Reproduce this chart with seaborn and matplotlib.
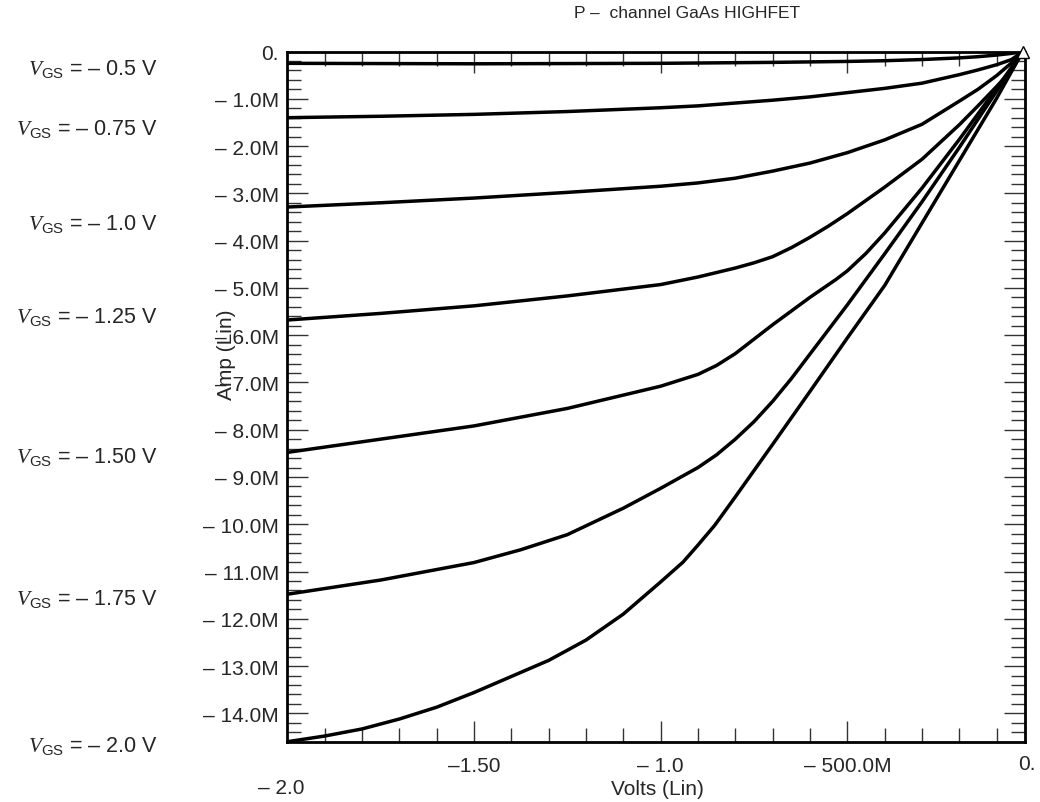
import numpy as np
import pandas as pd
import matplotlib
matplotlib.use("Agg")
import matplotlib.pyplot as plt
import seaborn as sns

# ---- data (drain voltage in V, drain current in mA) ----
vgs_labels = ["– 0.5 V", "– 0.75 V", "– 1.0 V", "– 1.25 V", "– 1.50 V", "– 1.75 V", "– 2.0 V"]

v_050 = [-2.0, -1.5, -1.0, -0.7, -0.5, -0.4, -0.3, -0.2, -0.15, -0.1, -0.06, -0.03]
i_050 = [-0.25, -0.26, -0.25, -0.23, -0.21, -0.195, -0.17, -0.135, -0.11, -0.075, -0.04, 0.0]

v_075 = [-2.0, -1.75, -1.5, -1.25, -1.0, -0.9, -0.8, -0.7, -0.6, -0.5, -0.4, -0.3, -0.2, -0.15, -0.1, -0.06, -0.03]
i_075 = [-1.40, -1.37, -1.33, -1.27, -1.19, -1.15, -1.09, -1.03, -0.96, -0.87, -0.78, -0.67, -0.49, -0.39, -0.28, -0.17, 0.0]

v_100 = [-2.0, -1.75, -1.5, -1.25, -1.0, -0.9, -0.8, -0.7, -0.6, -0.5, -0.4, -0.3, -0.2, -0.15, -0.1, -0.06, -0.03]
i_100 = [-3.29, -3.20, -3.10, -2.98, -2.85, -2.78, -2.68, -2.53, -2.36, -2.14, -1.87, -1.54, -1.05, -0.80, -0.51, -0.24, 0.0]

v_125 = [-2.0, -1.75, -1.5, -1.25, -1.0, -0.9, -0.8, -0.75, -0.7, -0.65, -0.6, -0.55, -0.5, -0.4, -0.3, -0.2, -0.15, -0.1, -0.06, -0.03]
i_125 = [-5.68, -5.54, -5.38, -5.17, -4.93, -4.77, -4.58, -4.47, -4.34, -4.15, -3.93, -3.69, -3.43, -2.87, -2.28, -1.55, -1.15, -0.74, -0.40, 0.0]

v_150 = [-2.0, -1.75, -1.5, -1.25, -1.0, -0.9, -0.85, -0.8, -0.7, -0.6, -0.53, -0.5, -0.45, -0.4, -0.3, -0.2, -0.1, -0.03]
i_150 = [-8.48, -8.20, -7.92, -7.55, -7.08, -6.83, -6.64, -6.39, -5.78, -5.20, -4.82, -4.64, -4.27, -3.84, -2.89, -1.86, -0.78, 0.0]

v_175 = [-2.0, -1.75, -1.5, -1.375, -1.25, -1.1, -1.0, -0.9, -0.85, -0.8, -0.75, -0.7, -0.65, -0.6, -0.5, -0.45, -0.4, -0.3, -0.2, -0.1, -0.03]
i_175 = [-11.48, -11.18, -10.81, -10.54, -10.22, -9.66, -9.24, -8.80, -8.53, -8.20, -7.83, -7.40, -6.92, -6.40, -5.36, -4.82, -4.28, -3.18, -2.03, -0.84, 0.0]

v_200 = [-2.0, -1.9, -1.8, -1.7, -1.6, -1.5, -1.4, -1.3, -1.2, -1.1, -1.0, -0.94, -0.9, -0.855, -0.8, -0.7, -0.6, -0.5, -0.4, -0.3, -0.2, -0.1, -0.03]
i_200 = [-14.60, -14.48, -14.33, -14.12, -13.87, -13.56, -13.22, -12.88, -12.45, -11.90, -11.22, -10.80, -10.44, -10.02, -9.42, -8.31, -7.19, -6.06, -4.95, -3.63, -2.31, -0.99, 0.0]

curves_v = [v_050, v_075, v_100, v_125, v_150, v_175, v_200]
curves_i = [i_050, i_075, i_100, i_125, i_150, i_175, i_200]

xtick_major = [-1.5, -1.0, -0.5]
xtick_labels = ["–1.50", "– 1.0", "– 500.0M"]
ytick_major = [0, -1, -2, -3, -4, -5, -6, -7, -8, -9, -10, -11, -12, -13, -14]
ytick_labels = ["0."] + [f"– {abs(v)}.0M" for v in ytick_major[1:]]

rows = []
for lab, vs, ids in zip(vgs_labels, curves_v, curves_i):
    for v, i in zip(vs, ids):
        rows.append({"V": v, "I": i, "Vgs": lab})
df = pd.DataFrame(rows)

sns.set_theme(style="white")
plt.rcParams["font.family"] = ["Liberation Sans", "DejaVu Sans"]
plt.rcParams["mathtext.fontset"] = "custom"
plt.rcParams["mathtext.it"] = "Liberation Serif:italic"
plt.rcParams["mathtext.rm"] = "Liberation Sans"
plt.rcParams["mathtext.default"] = "regular"

W, H = 1040, 803
fig = plt.figure(figsize=(W / 100, H / 100), dpi=100)
ax = fig.add_axes([287.4 / W, 1 - 742.7 / H, (1025 - 287.4) / W, (742.7 - 52.5) / H])

sns.lineplot(data=df, x="V", y="I", hue="Vgs", units="Vgs", estimator=None, sort=False,
             palette=["black"] * len(vgs_labels), linewidth=2.5, legend=False, ax=ax)
for ln in ax.get_lines():
    ln.set_solid_joinstyle("round")

ax.plot([v_200[-1]], [i_200[-1]], marker="^", markersize=8, mfc="white", mec="black",
        mew=1.0, clip_on=False, zorder=5)

ax.set_xlim(-2.0, -0.024)
ax.set_ylim(-14.6, 0.0)
ax.set_xticks(xtick_major)
ax.set_xticklabels(xtick_labels)
ax.set_xticks([round(-1.9 + 0.1 * k, 2) for k in range(19) if round(-1.9 + 0.1 * k, 2) not in xtick_major], minor=True)
ax.set_yticks(ytick_major)
ax.set_yticklabels(ytick_labels)
ax.set_yticks([round(-0.2 * k, 2) for k in range(1, 73) if (k % 5) != 0], minor=True)

TICK_FS = 15
ax.tick_params(which="both", direction="in", top=True, right=True, bottom=True, left=True,
               color="#333333", width=1.0, labelsize=TICK_FS)
ax.tick_params(which="major", length=15)
ax.tick_params(which="minor", length=10)
ax.tick_params(axis="x", which="major", pad=10)
ax.tick_params(axis="y", which="major", pad=6)
for s in ax.spines.values():
    s.set_linewidth(2.0)
    s.set_color("black")
    s.set_visible(True)

ax.set_xlabel("")
ax.set_ylabel("")

# end labels of the x axis
fig.text(1027 / W, 1 - 765 / H, "0.", ha="center", va="center", fontsize=TICK_FS)
fig.text(281 / W, 1 - 789 / H, "– 2.0", ha="center", va="center", fontsize=TICK_FS)

fig.text(657 / W, 1 - 790 / H, "Volts (Lin)", ha="center", va="center", fontsize=15)
fig.text(227 / W, 1 - 355 / H, "Amp (Lin)", ha="center", va="center", rotation=90, fontsize=15)
fig.text(687 / W, 1 - 14 / H, "P –  channel GaAs HIGHFET", ha="center", va="center", fontsize=12.5)

label_y = [70, 130, 225, 318, 458, 600, 747]
for lab, yy in zip(vgs_labels, label_y):
    fig.text(158 / W, 1 - yy / H, r"$\mathit{V}_{\mathrm{GS}}$ = " + lab, ha="right", va="center", fontsize=15.5)

fig.savefig("out.png", dpi=100, facecolor="white")
